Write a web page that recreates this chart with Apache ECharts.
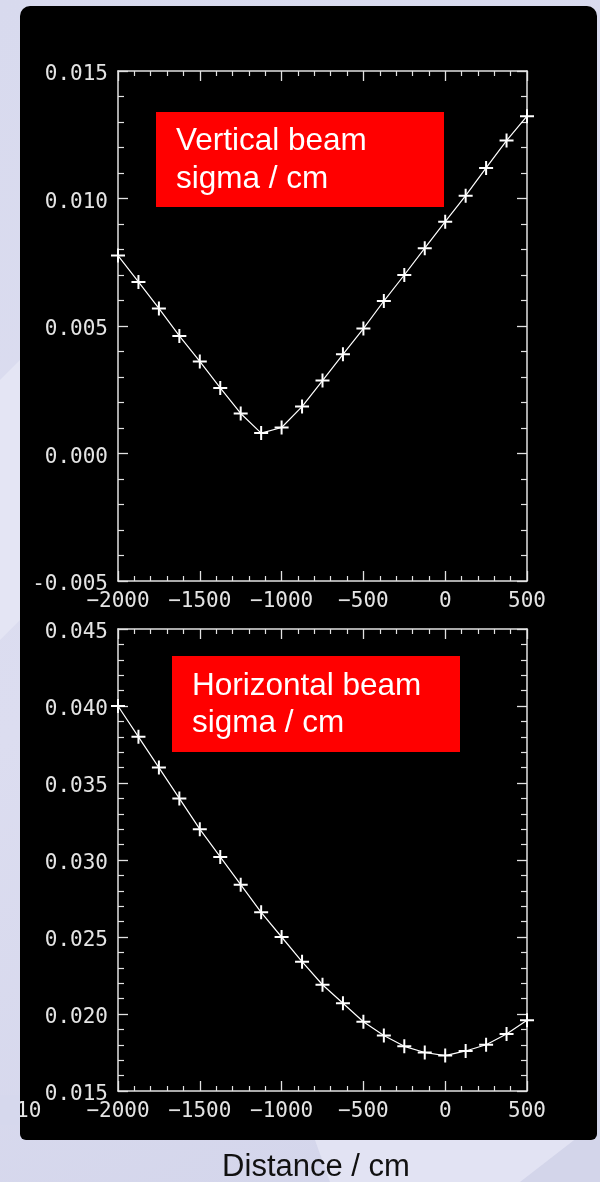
<!DOCTYPE html>
<html>
<head>
<meta charset="utf-8">
<script src="https://cdn.jsdelivr.net/npm/echarts/dist/echarts.min.js"></script>
<style>
html,body{margin:0;padding:0;background:#d5d7ec;}
#chart{width:600px;height:1182px;}
</style>
</head>
<body>
<div id="chart"></div>
<script>
// ---- data ----
const distance = [-2000,-1875,-1750,-1625,-1500,-1375,-1250,-1125,-1000,-875,-750,-625,-500,-375,-250,-125,0,125,250,375,500];
const verticalSigma = [0.00776,0.00673,0.00569,0.00461,0.00361,0.00257,0.00157,0.00080,0.00102,0.00184,0.00286,0.00389,0.00490,0.00598,0.00700,0.00805,0.00909,0.01011,0.01120,0.01227,0.01323];
const horizontalSigma = [0.0400,0.0380,0.0360,0.0340,0.0320,0.0302,0.0284,0.0266,0.0250,0.0234,0.0219,0.0207,0.0195,0.0186,0.0179,0.0175,0.0173,0.0176,0.0180,0.0187,0.0196];
const xTickValues = [-2000,-1500,-1000,-500,0,500];
const xTickLabels = ['\u22122000','\u22121500','\u22121000','\u2212500','0','500'];
const yTopTickValues = [-0.005,0,0.005,0.010,0.015];
const yTopTickLabels = ['-0.005','0.000','0.005','0.010','0.015'];
const yBottomTickValues = [0.015,0.020,0.025,0.030,0.035,0.040,0.045];
const yBottomTickLabels = ['0.015','0.020','0.025','0.030','0.035','0.040','0.045'];
const titleTop = 'Vertical beam\nsigma / cm';
const titleBottom = 'Horizontal beam\nsigma / cm';
const xTitle = 'Distance / cm';

function lookup(vals, labels){
  return function(v){
    let best = 0, bd = Infinity;
    vals.forEach((t,i)=>{ const d = Math.abs(t - v); if (d < bd){bd = d; best = i;} });
    return labels[best];
  };
}

const axisColor = '#e2e2e2';
const labelFont = {fontFamily:'DejaVu Sans Mono', fontSize:21, color:'#e4e4e4'};
const plusPath = 'path://M6,0L8,0L8,6L14,6L14,8L8,8L8,14L6,14L6,8L0,8L0,6L6,6Z';

function xAx(grid, pos, showLabel){
  return {
    type:'value', gridIndex:grid, position:pos, min:-2000, max:500, interval:500,
    axisLine:{show:true, onZero:false, lineStyle:{color:axisColor, width:1.5}},
    axisTick:{show:true, inside:true, length:10, lineStyle:{color:axisColor, width:1.3}},
    minorTick:{show:true, splitNumber:5, length:5, lineStyle:{color:axisColor, width:1.2}},
    splitLine:{show:false}, minorSplitLine:{show:false},
    axisLabel: showLabel ? Object.assign({show:true, margin:10, hideOverlap:false,
      formatter: lookup(xTickValues, xTickLabels)}, labelFont) : {show:false}
  };
}
function yAx(grid, pos, min, max, vals, labels, showLabel){
  return {
    type:'value', gridIndex:grid, position:pos, min:min, max:max, interval:0.005,
    axisLine:{show:true, onZero:false, lineStyle:{color:axisColor, width:1.5}},
    axisTick:{show:true, inside:true, length:10, lineStyle:{color:axisColor, width:1.3}},
    minorTick:{show:true, splitNumber:5, length:6, lineStyle:{color:axisColor, width:1.2}},
    splitLine:{show:false}, minorSplitLine:{show:false},
    axisLabel: showLabel ? Object.assign({show:true, margin:10, verticalAlign:'top', lineHeight:8,
      formatter: lookup(vals, labels)}, labelFont) : {show:false}
  };
}

const chart = echarts.init(document.getElementById('chart'), null, {renderer:'canvas'});
const option = {
  animation:false,
  backgroundColor:{
    type:'linear', x:0, y:0, x2:1, y2:1,
    colorStops:[{offset:0,color:'#d8daee'},{offset:0.5,color:'#dcddf0'},{offset:1,color:'#d2d4ea'}]
  },
  graphic:[
    {type:'polygon', z:-30, silent:true, shape:{points:[[0,380],[20,360],[20,620],[0,640]]}, style:{fill:'#e4e5f4'}},
    {type:'polygon', z:-30, silent:true, shape:{points:[[315,1140],[600,1140],[600,1182],[330,1182]]}, style:{fill:'#e2e3f3'}},
    {type:'polygon', z:-29, silent:true, shape:{points:[[520,1182],[600,1120],[600,1182]]}, style:{fill:'#d3d5ea'}},
    {type:'rect', z:-20, silent:true, shape:{x:20, y:6, width:577, height:1134, r:[10,10,6,6]}, style:{fill:'#000'}},
    {type:'text', z:-5, silent:true, x:16, y:1101, style:{text:'10', fill:'#e4e4e4', font:'21px "DejaVu Sans Mono"'}},
    {type:'rect', z:-4, silent:true, shape:{x:0, y:1095, width:20, height:30}, style:{fill:'#d6d8ed'}},
    {type:'rect', z:50, silent:true, shape:{x:156, y:112, width:288, height:95}, style:{fill:'#ff0000'}},
    {type:'text', z:51, silent:true, x:176, y:122, style:{text:titleTop, fill:'#ffffff', font:'31.5px "Liberation Sans"', lineHeight:38}},
    {type:'rect', z:50, silent:true, shape:{x:172, y:656, width:288, height:96}, style:{fill:'#ff0000'}},
    {type:'text', z:51, silent:true, x:192, y:668, style:{text:titleBottom, fill:'#ffffff', font:'31.5px "Liberation Sans"', lineHeight:37}},
    {type:'text', z:51, silent:true, x:316, y:1167, style:{text:xTitle, fill:'#111111', font:'31px "Liberation Sans"', align:'center', verticalAlign:'middle'}}
  ],
  grid:[
    {left:118, top:71, width:409, height:510},
    {left:118, top:629, width:409, height:462}
  ],
  xAxis:[ xAx(0,'bottom',true), xAx(0,'top',false), xAx(1,'bottom',true), xAx(1,'top',false) ],
  yAxis:[
    yAx(0,'left',-0.005,0.015,yTopTickValues,yTopTickLabels,true),
    yAx(0,'right',-0.005,0.015,yTopTickValues,yTopTickLabels,false),
    yAx(1,'left',0.015,0.045,yBottomTickValues,yBottomTickLabels,true),
    yAx(1,'right',0.015,0.045,yBottomTickValues,yBottomTickLabels,false)
  ],
  series:[
    {type:'line', xAxisIndex:0, yAxisIndex:0, data: distance.map((d,i)=>[d, verticalSigma[i]]),
     symbol:plusPath, symbolSize:14, showAllSymbol:true, lineStyle:{color:'#ffffff', width:1.2},
     itemStyle:{color:'#ffffff'}, emphasis:{disabled:true}},
    {type:'line', xAxisIndex:2, yAxisIndex:2, data: distance.map((d,i)=>[d, horizontalSigma[i]]),
     symbol:plusPath, symbolSize:14, showAllSymbol:true, lineStyle:{color:'#ffffff', width:1.2},
     itemStyle:{color:'#ffffff'}, emphasis:{disabled:true}}
  ]
};
chart.setOption(option);
</script>
</body>
</html>
